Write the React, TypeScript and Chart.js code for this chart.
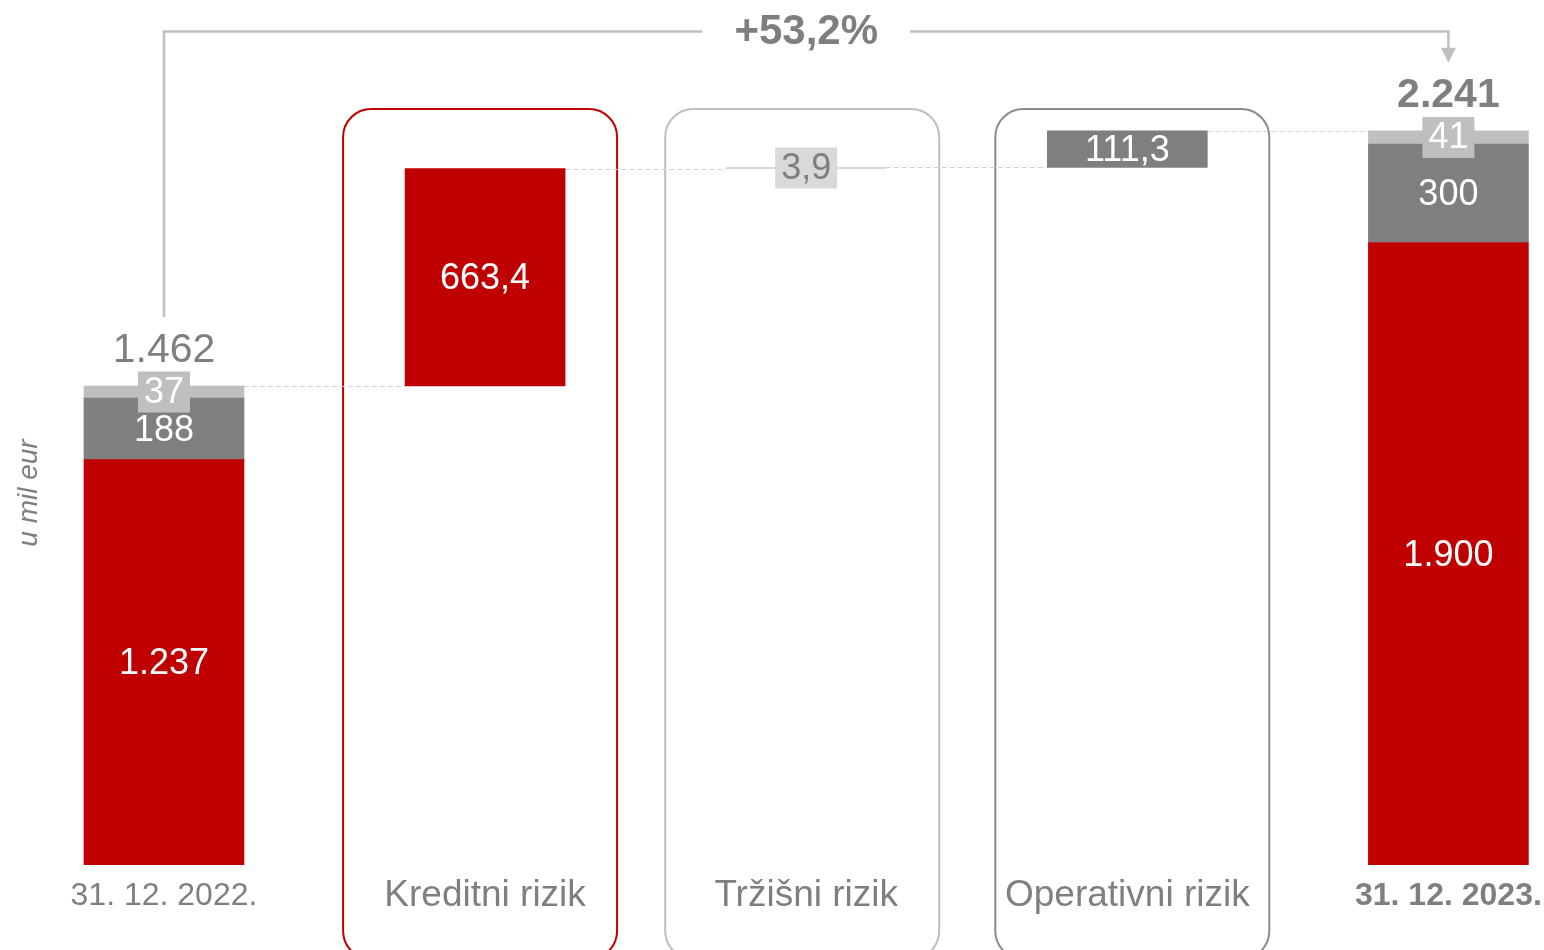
import React, { useEffect, useRef } from "react";
import { Chart, registerables } from "chart.js";

Chart.register(...registerables);

// ---------------- data ----------------
const categories = ["31. 12. 2022.", "Kreditni rizik", "Tržišni rizik", "Operativni rizik", "31. 12. 2023."];
const creditRisk: (number | null)[] = [1237, 663.4, null, null, 1900];
const operationalRisk: (number | null)[] = [188, null, null, 111.3, 300];
const marketRisk: (number | null)[] = [37, null, 3.9, null, 41];
const totals: (number | null)[] = [1462, null, null, null, 2241];
const growthLabel = "+53,2%";
const unitLabel = "u mil eur";

// ---------------- styles ----------------
const RED = "#C00000";
const DARK = "#7F7F7F";
const LIGHT = "#BFBFBF";
const PALE = "#D9D9D9";
const TEXT = "#7F7F7F";
const FONT = '"Liberation Sans", Arial, sans-serif';
const BAR_W = 160;
const FRAME_W = 274;
const frameColors = [null, RED, LIGHT, "#8C8C8C", null];
const frameShift = [0, -5, -4, 5, 0];

function fmt(v: number): string {
  const isInt = Number.isInteger(v);
  const s = isInt ? String(Math.abs(v)) : Math.abs(v).toFixed(1);
  const [ip, dp] = s.split(".");
  const grouped = ip.replace(/\B(?=(\d{3})+(?!\d))/g, ".");
  return (v < 0 ? "-" : "") + grouped + (dp ? "," + dp : "");
}

type Seg = { x: number; y: [number, number]; v: number; kind: "credit" | "operational" | "market"; end: boolean };

function buildSegments() {
  const segs: Seg[] = [];
  const levels: number[] = [];
  let running = 0;
  categories.forEach((_, i) => {
    const series: [Seg["kind"], number | null][] = [
      ["credit", creditRisk[i]],
      ["operational", operationalRisk[i]],
      ["market", marketRisk[i]],
    ];
    const end = totals[i] != null;
    let base = end ? 0 : running;
    series.forEach(([kind, v]) => {
      if (v == null) return;
      segs.push({ x: i, y: [base, base + v], v, kind, end });
      base += v;
    });
    running = base;
    levels.push(running);
  });
  return { segs, levels };
}

export default function App() {
  const ref = useRef<HTMLCanvasElement>(null);

  useEffect(() => {
    if (!ref.current) return;
    const { segs, levels } = buildSegments();

    const mk = (kind: Seg["kind"], label: string, color: (s: Seg) => string) => {
      const list = segs.filter((s) => s.kind === kind);
      return {
        label,
        data: list.map((s) => ({ x: s.x, y: s.y })),
        backgroundColor: list.map(color),
        borderWidth: 0,
        barThickness: BAR_W,
        grouped: false,
      };
    };

    const overlay = {
      id: "overlay",
      beforeDatasetsDraw(chart: any) {
        const ctx = chart.ctx;
        const xs = chart.scales.x;
        const ys = chart.scales.y;
        const top = chart.chartArea.top;
        ctx.save();
        // frames
        categories.forEach((_, i) => {
          const c = frameColors[i];
          if (!c) return;
          const cx = xs.getPixelForValue(i) + frameShift[i];
          ctx.beginPath();
          ctx.strokeStyle = c;
          ctx.lineWidth = 2;
          ctx.roundRect(cx - FRAME_W / 2, top + 109, FRAME_W, 850, 28);
          ctx.stroke();
        });
        // dashed connectors
        ctx.setLineDash([5, 3]);
        ctx.strokeStyle = "#D0D0D0";
        ctx.lineWidth = 1;
        for (let i = 0; i < categories.length - 1; i++) {
          const y = Math.round(ys.getPixelForValue(levels[i])) + 0.5;
          const xa = xs.getPixelForValue(i) + BAR_W / 2;
          const xb = xs.getPixelForValue(i + 1) - BAR_W / 2;
          ctx.beginPath();
          ctx.moveTo(xa, y);
          ctx.lineTo(xb, y);
          ctx.stroke();
        }
        ctx.restore();
      },
      afterDatasetsDraw(chart: any) {
        const ctx = chart.ctx;
        const xs = chart.scales.x;
        const ys = chart.scales.y;
        const top = chart.chartArea.top;
        const bottom = chart.chartArea.bottom;
        ctx.save();
        ctx.textAlign = "center";
        ctx.textBaseline = "middle";

        // segment labels
        segs.forEach((s) => {
          const cx = xs.getPixelForValue(s.x);
          const cy = (ys.getPixelForValue(s.y[0]) + ys.getPixelForValue(s.y[1])) / 2;
          const text = fmt(s.v);
          ctx.font = `36px ${FONT}`;
          if (s.kind === "market") {
            const w = ctx.measureText(text).width + 12;
            const h = 41;
            ctx.fillStyle = s.end ? LIGHT : PALE;
            ctx.fillRect(cx - w / 2, cy - h / 2, w, h);
            ctx.fillStyle = s.end ? "#FFFFFF" : TEXT;
            ctx.fillText(text, cx, cy + 1);
          } else {
            ctx.fillStyle = "#FFFFFF";
            ctx.fillText(text, cx, cy + 2);
          }
        });

        // totals
        const last = categories.length - 1;
        totals.forEach((t, i) => {
          if (t == null) return;
          const cx = xs.getPixelForValue(i);
          const y = ys.getPixelForValue(t) - 35;
          ctx.font = `${i === last ? "bold " : ""}41px ${FONT}`;
          ctx.fillStyle = TEXT;
          ctx.fillText(fmt(t), cx, y);
        });

        // growth arrow
        const x0 = xs.getPixelForValue(0);
        const x1 = xs.getPixelForValue(last);
        const yLine = top + 31.5;
        const yStart = ys.getPixelForValue(totals[0] as number) - 69;
        const yTip = ys.getPixelForValue(totals[last] as number) - 68;
        ctx.font = `bold 42px ${FONT}`;
        const tw = ctx.measureText(growthLabel).width;
        const mid = (x0 + x1) / 2;
        ctx.strokeStyle = LIGHT;
        ctx.lineWidth = 2.5;
        ctx.beginPath();
        ctx.moveTo(x0, yStart);
        ctx.lineTo(x0, yLine);
        ctx.lineTo(mid - tw / 2 - 32, yLine);
        ctx.moveTo(mid + tw / 2 + 32, yLine);
        ctx.lineTo(x1, yLine);
        ctx.lineTo(x1, yTip - 14);
        ctx.stroke();
        ctx.fillStyle = LIGHT;
        ctx.beginPath();
        ctx.moveTo(x1 - 7.5, yTip - 15);
        ctx.lineTo(x1 + 7.5, yTip - 15);
        ctx.lineTo(x1, yTip);
        ctx.closePath();
        ctx.fill();
        ctx.fillStyle = TEXT;
        ctx.fillText(growthLabel, mid, yLine + 1);

        // category labels
        categories.forEach((c, i) => {
          const end = totals[i] != null;
          ctx.font = `${i === last ? "bold " : ""}${end ? 32 : 37}px ${FONT}`;
          ctx.fillStyle = TEXT;
          ctx.fillText(c, xs.getPixelForValue(i), bottom + 31);
        });

        // unit label
        ctx.translate(29, 493);
        ctx.rotate(-Math.PI / 2);
        ctx.font = `italic 28px ${FONT}`;
        ctx.fillStyle = TEXT;
        ctx.fillText(unitLabel, 0, 0);
        ctx.restore();
      },
    };

    const chart = new Chart(ref.current, {
      type: "bar",
      data: {
        datasets: [
          mk("credit", "Kreditni rizik", () => RED),
          mk("operational", "Operativni rizik", () => DARK),
          mk("market", "Tržišni rizik", (s) => (s.end ? LIGHT : PALE)),
        ] as any,
      },
      options: {
        responsive: false,
        animation: false,
        layout: { padding: { top: 0, bottom: 85, left: 0, right: 0 } },
        plugins: { legend: { display: false }, tooltip: { enabled: false } },
        scales: {
          x: { type: "linear", display: false, offset: false, bounds: "data", min: -0.5107, max: 4.2977 },
          y: { display: false, min: 0, max: 2640 },
        },
      } as any,
      plugins: [overlay],
    });
    return () => chart.destroy();
  }, []);

  return (
    <div style={{ position: "fixed", left: 0, top: 0, width: 1544, height: 950, background: "#fff" }}>
      <canvas ref={ref} width={1544} height={950} style={{ display: "block" }} />
    </div>
  );
}
